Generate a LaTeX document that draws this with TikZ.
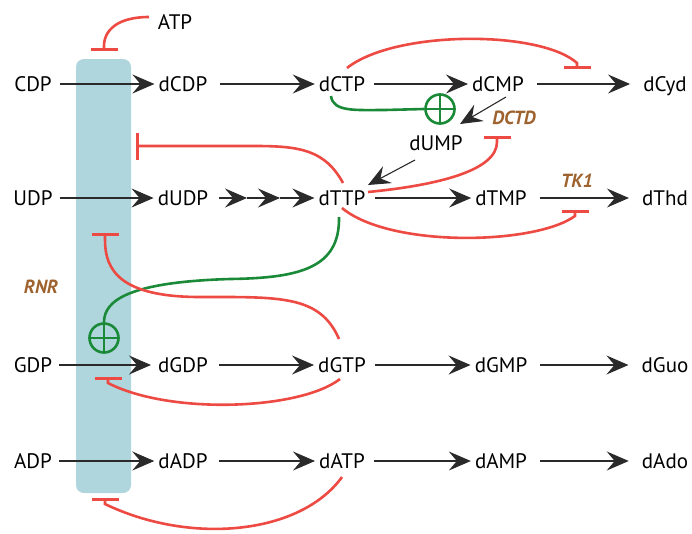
\documentclass[tikz,border=0pt]{standalone}
\usepackage{fontspec}
\setmainfont{PT Sans}
\usetikzlibrary{arrows.meta}
\definecolor{rnrblue}{HTML}{AED6DC}
\definecolor{inhred}{HTML}{EC4A43}
\definecolor{actgreen}{HTML}{1A8A38}
\definecolor{enzbrown}{HTML}{9E622E}
\definecolor{arrgray}{HTML}{2A2A2A}
\tikzset{
  met/.style={font=\fontsize{21}{21}\selectfont, text height=14.5pt, text depth=0pt, inner sep=0pt, anchor=center},
  enz/.style={font=\fontsize{19}{19}\selectfont\bfseries\itshape, text=enzbrown, inner sep=0pt},
  arr/.style={draw=arrgray, line width=1.1pt, -{Stealth[length=22pt 0,width=19pt 0,inset=8pt 0]}, shorten <=9pt, shorten >=4pt},
  inh/.style={draw=inhred, line width=2.6pt, -{Bar[width=27pt]}},
  act/.style={draw=actgreen, line width=2.6pt},
  oplus/.style={circle, draw=actgreen, line width=2.6pt, minimum size=29pt, inner sep=0pt}
}
\begin{document}
\begin{tikzpicture}[x=1pt,y=-1pt]
\useasboundingbox (0,0) rectangle (692,533);
% RNR block
\node[fill=rnrblue, rounded corners=8pt, minimum width=55pt, minimum height=434pt, inner sep=0pt] (rnr) at (103.5,276) {};
\node[enz] (rnrlab) at (41,287) {RNR};
% metabolites
\node[met] (ATP) at (175,22) {ATP};
\node[met] (CDP) at (33,84) {CDP};
\node[met] (dCDP) at (183,84) {dCDP};
\node[met] (dCTP) at (342,84) {dCTP};
\node[met] (dCMP) at (498,84) {dCMP};
\node[met] (dCyd) at (665,84) {dCyd};
\node[met] (dUMP) at (436,143) {dUMP};
\node[met] (UDP) at (33,198) {UDP};
\node[met] (dUDP) at (183,198) {dUDP};
\node[met] (dTTP) at (342,198) {dTTP};
\node[met] (dTMP) at (501,198) {dTMP};
\node[met] (dThd) at (665,198) {dThd};
\node[met] (GDP) at (33,365) {GDP};
\node[met] (dGDP) at (183,365) {dGDP};
\node[met] (dGTP) at (342,365) {dGTP};
\node[met] (dGMP) at (501,365) {dGMP};
\node[met] (dGuo) at (665,365) {dGuo};
\node[met] (ADP) at (33,461) {ADP};
\node[met] (dADP) at (183,461) {dADP};
\node[met] (dATP) at (342,461) {dATP};
\node[met] (dAMP) at (501,461) {dAMP};
\node[met] (dAdo) at (665,461) {dAdo};
\node[enz] (DCTD) at (514,118) {DCTD};
\node[enz] (TK1) at (577,181) {TK1};
% black arrows
\draw[arr, shorten <=8pt] (CDP) -- (dCDP);
\draw[arr, shorten <=12pt] (dCDP) -- (dCTP);
\draw[arr] (dCTP) -- (dCMP);
\draw[arr, shorten <=13pt, shorten >=13pt] (dCMP) -- (dCyd);
\draw[arr, shorten <=0pt, shorten >=0pt] ([xshift=8pt,yshift=-13pt]dCMP.center) -- ([xshift=24pt,yshift=19pt]dUMP.center);
\draw[arr, shorten <=0pt, shorten >=0pt] ([xshift=-21pt,yshift=-17pt]dUMP.center) -- ([xshift=26pt,yshift=13pt]dTTP.center);
\draw[arr, shorten <=7pt] (UDP) -- (dUDP);
\coordinate (t1) at (247,198);
\coordinate (t2) at (280,198);
\draw[arr, shorten <=11pt, shorten >=0pt] (dUDP) -- (t1);
\draw[arr, shorten <=0pt, shorten >=0pt] (t1) -- (t2);
\draw[arr, shorten <=0pt] (t2) -- (dTTP);
\draw[arr] (dTTP) -- (dTMP);
\draw[arr, shorten <=13pt, shorten >=13pt] (dTMP) -- (dThd);
\draw[arr, shorten <=7pt, shorten >=7pt] (GDP) -- (dGDP);
\draw[arr, shorten <=11pt] (dGDP) -- (dGTP);
\draw[arr] (dGTP) -- (dGMP);
\draw[arr, shorten <=13pt, shorten >=13pt] (dGMP) -- (dGuo);
\draw[arr, shorten <=7pt] (ADP) -- (dADP);
\draw[arr, shorten <=11pt] (dADP) -- (dATP);
\draw[arr] (dATP) -- (dAMP);
\draw[arr, shorten <=13pt, shorten >=13pt] (dAMP) -- (dAdo);
% activation circles
\node[oplus] (p1) at (440,109) {};
\draw[actgreen, line width=2.2pt] (p1.north) -- (p1.south) (p1.west) -- (p1.east);
\node[oplus] (p2) at (104,338) {};
\draw[actgreen, line width=2.2pt] (p2.north) -- (p2.south) (p2.west) -- (p2.east);
% green activations
\draw[act] ([xshift=-11pt,yshift=-12pt]dCTP.center) .. controls (333,112) and (355,110) .. (385,110) -- (p1.west);
\draw[act] ([xshift=-3pt,yshift=-19pt]dTTP.center) .. controls (340,268) and (300,278) .. (230,279) .. controls (130,282) and (104,300) .. (p2.north);
% red inhibitions
\coordinate (b1) at (104,51);
\coordinate (b2) at (577,69);
\coordinate (b3) at (136,146);
\coordinate (b4) at (497,136);
\coordinate (b5) at (575,210);
\coordinate (b6) at (105,233);
\coordinate (b7) at (108,377);
\coordinate (b8) at (105,498);
\draw[inh] ([xshift=-26pt,yshift=5pt]ATP.center) .. controls (118,17) and (104,30) .. (104,46) -- (b1);
\draw[inh] ([xshift=5pt,yshift=16pt]dCTP.center) .. controls (395,30) and (540,30) .. (577,63) -- (b2);
\draw[inh] ([xshift=1pt,yshift=15pt]dTTP.center) .. controls (325,150) and (300,146) .. (255,146) -- (b3);
\draw[inh] ([xshift=26pt,yshift=6pt]dTTP.center) .. controls (440,185) and (497,170) .. (497,142) -- (b4);
\draw[inh] ([xshift=0pt,yshift=-10pt]dTTP.center) .. controls (390,248) and (535,245) .. (575,216) -- (b5);
\draw[inh] ([xshift=-3pt,yshift=26pt]dGTP.center) .. controls (320,295) and (280,297) .. (200,297) .. controls (120,297) and (105,270) .. (105,240) -- (b6);
\draw[inh] ([xshift=-2pt,yshift=-14pt]dGTP.center) .. controls (300,410) and (170,415) .. (108,383) -- (b7);
\draw[inh] ([xshift=0pt,yshift=-16pt]dATP.center) .. controls (300,535) and (190,545) .. (105,504) -- (b8);
\end{tikzpicture}
\end{document}
